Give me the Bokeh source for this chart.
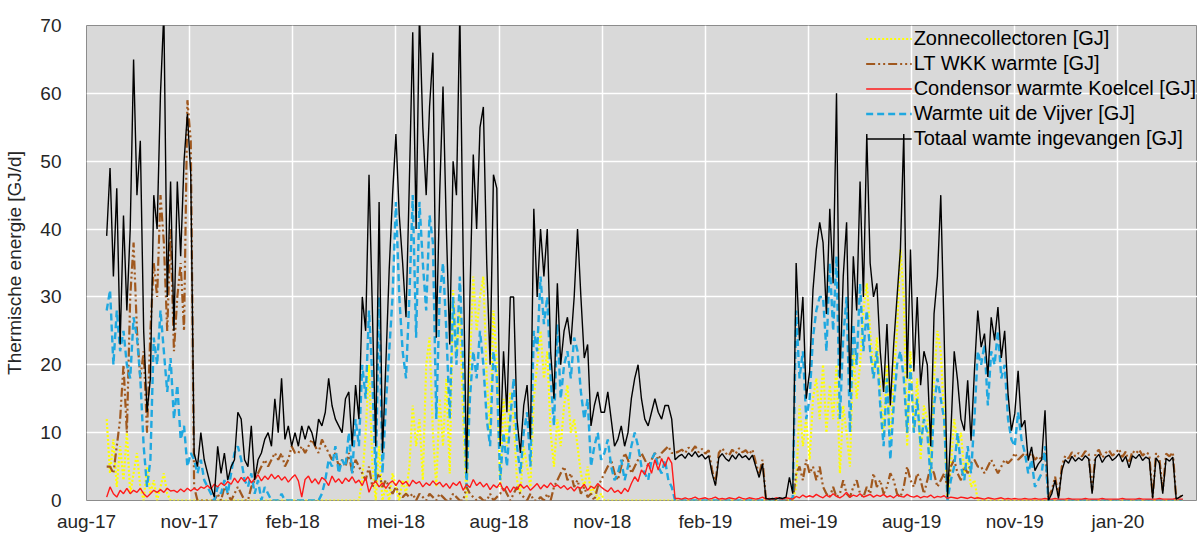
from bokeh.plotting import figure
from bokeh.models import FixedTicker, SingleIntervalTicker, Range1d, Legend, LegendItem
from bokeh.embed import file_html
from bokeh.resources import INLINE

# ---- data: daily energy (GJ/d), sampled every STEP days starting DAY0 days after aug-17 ----
DAY0 = 18
STEP = 3
TICK_DAYS = 92
tick_labels = ["aug-17", "nov-17", "feb-18", "mei-18", "aug-18", "nov-18",
               "feb-19", "mei-19", "aug-19", "nov-19", "jan-20"]

series_names = ["Zonnecollectoren [GJ]", "LT WKK warmte [GJ]", "Condensor warmte Koelcel [GJ]",
                "Warmte uit de Vijver [GJ]", "Totaal wamte ingevangen [GJ]"]

totaal = [
    39, 49, 33, 46, 23, 42, 28, 40, 65, 45,
    53, 25, 13, 18, 45, 40, 60, 72, 30, 47,
    25, 47, 36, 50, 57, 48, 7, 5, 10, 6,
    4, 2, 0.5, 8, 4, 7, 3, 5, 6, 13,
    12, 6, 5, 11, 3, 6, 7, 9, 10, 8,
    15, 10, 18, 9, 11, 8, 10, 8, 11, 9,
    11, 10, 8, 12, 11, 13, 18, 14, 12, 11,
    10, 15, 16, 8, 17, 12, 30, 25, 48, 28,
    8, 44, 7, 20, 34, 45, 54, 42, 35, 27,
    47, 69, 40, 72, 55, 45, 58, 66, 24, 45,
    61, 40, 23, 50, 45, 72, 36, 4, 30, 51,
    40, 55, 58, 35, 20, 48, 46, 8, 22, 13,
    30, 30, 12, 7, 14, 17, 9, 43, 30, 40,
    33, 40, 22, 15, 32, 20, 25, 27, 23, 30,
    40, 30, 21, 23, 11, 14, 16, 13, 13, 16,
    12, 8, 9, 11, 8, 10, 15, 18, 20, 15,
    12, 11, 13, 15, 13, 12, 14, 14, 12, 6,
    6.5, 6.8, 6.2, 7, 6.5, 7.2, 6.4, 6.8, 6.1, 6.6,
    4, 2.2, 6.3, 6.9, 6.2, 5.8, 6.7, 6.1, 6.9, 6.3,
    6.6, 6, 6.7, 5, 3.4, 5.4, 0.3, 0.2, 0.3, 0.2,
    0.4, 0.3, 0.5, 3.4, 1, 35, 23.6, 30, 15, 19,
    31, 37, 41, 38, 27.5, 43, 32, 60, 18, 33,
    41, 16, 36, 28, 47, 30, 54, 35, 30, 32,
    22, 16, 26, 14, 23, 30, 37, 54, 18, 37,
    19, 30, 17, 22, 20, 8, 27.5, 33, 45, 24.5,
    0.5, 10, 22, 17.7, 12, 10.3, 17.7, 8.8, 19, 28,
    22.6, 24.6, 18.2, 27, 23.6, 28.5, 21, 25, 15.7, 10.3,
    12.8, 19.1, 10.8, 11.8, 5.9, 7.9, 4.4, 5.4, 6, 13.3,
    0, 1, 3, 0.3, 4.4, 6, 5.5, 6.5, 5.8, 6.3,
    5.9, 6.6, 6.1, 1, 6.2, 6.8, 5.6, 6.4, 6.7, 5.9,
    6.3, 6.9, 5.7, 6.5, 4.8, 6.6, 6.2, 6.8, 5.9, 6.4,
    6.1, 0.3, 6.3, 5.5, 1, 6.2, 5.8, 6.4, 0.2, 0.5,
    0.8,
]

vijver = [
    28, 31, 20, 28, 22, 25, 20, 18, 27, 24,
    18, 8, 2, 6, 24, 20, 28, 22, 16, 21,
    12, 17, 9, 11, 5, 7, 6, 4, 6, 3,
    2, 1, 0, 2, 1, 3, 1, 4, 7, 8,
    6, 3, 2, 4, 1, 3, 0, 2, 1, 0,
    0, 0, 1, 0, 0, 0, 0, 0, 0, 0,
    0, 0, 0, 0, 1, 3, 6, 5, 8, 4,
    6, 5, 10, 4, 12, 8, 20, 15, 28, 18,
    3, 30, 4, 14, 22, 30, 44, 30, 22, 18,
    30, 45, 24, 44, 35, 28, 42, 38, 12, 30,
    35, 25, 12, 30, 20, 33, 20, 2, 15, 22,
    18, 25, 20, 12, 8, 22, 18, 3, 10, 5,
    12, 18, 8, 4, 10, 13, 5, 25, 22, 33,
    26, 30, 18, 11, 26, 15, 20, 22, 18, 24,
    22, 16, 12, 15, 5, 8, 10, 6, 7, 9,
    5, 3, 4, 6, 3, 5, 8, 10, 8, 5,
    4, 3, 6, 7, 5, 4, 6, 3, 2, 0,
    0, 0, 0, 0, 0, 0, 0, 0, 0, 0,
    0, 0, 0, 0, 0, 0, 0, 0, 0, 0,
    0, 0, 0, 0, 0, 0, 0, 0, 0, 0,
    0, 0, 0, 0, 0.5, 28, 18, 22, 12, 15,
    24, 28, 30, 30, 22, 35, 25, 36, 12, 24,
    30, 10, 26, 20, 32, 22, 28, 22, 18, 22,
    14, 8, 18, 6, 14, 20, 22, 18, 10, 20,
    10, 15, 8, 12, 10, 3, 14, 18, 15, 12,
    0, 3, 5, 10, 5, 3, 8, 4, 12, 22,
    20, 23, 14, 22, 20, 25, 18, 20, 12, 9,
    8, 13, 9, 7, 4, 6, 2, 3, 4, 8,
    0, 0, 0, 0, 0, 0, 0, 0, 0, 0,
    0, 0, 0, 0, 0, 0, 0, 0, 0, 0,
    0, 0, 0, 0, 0, 0, 0, 0, 0, 0,
    0, 0, 0, 0, 0, 0, 0, 0, 0, 0,
    0,
]

zonne = [
    12, 4, 9, 2, 8, 3, 10, 1, 4, 7,
    2, 0, 5, 1, 3, 0, 2, 4, 1, 0,
    0, 0, 0, 0, 0, 0, 0, 0, 0, 0,
    0, 0, 0, 0, 0, 0, 0, 0, 0, 0,
    0, 0, 0, 0, 0, 0, 0, 0, 0, 0,
    0, 0, 0, 0, 0, 0, 0, 0, 0, 0,
    0, 0, 0, 0, 0, 0, 0, 0, 0, 0,
    0, 0, 0, 0, 0, 0, 3, 10, 20, 5,
    0, 8, 0, 2, 0, 4, 2, 0, 3, 1,
    5, 14, 8, 12, 3, 20, 24, 10, 2, 15,
    8, 18, 4, 31, 22, 28, 12, 0, 20, 33,
    25, 30, 33, 18, 10, 28, 20, 2, 15, 8,
    16, 12, 3, 1, 8, 5, 2, 15, 20, 25,
    18, 22, 10, 5, 12, 8, 14, 17, 10, 12,
    8, 4, 2, 5, 1, 2, 0, 1, 0, 0,
    0, 0, 0, 0, 0, 0, 0, 0, 0, 0,
    0, 0, 0, 0, 0, 0, 0, 0, 0, 0,
    0, 0, 0, 0, 0, 0, 0, 0, 0, 0,
    0, 0, 0, 0, 0, 0, 0, 0, 0, 0,
    0, 0, 0, 0, 0, 0, 0, 0, 0, 0,
    0, 0, 0, 0, 0, 2, 14, 8, 12, 6,
    15, 18, 12, 20, 10, 17, 12, 20, 4, 14,
    10, 5, 22, 15, 20, 28, 32, 25, 18, 24,
    16, 10, 20, 8, 18, 25, 37, 30, 8, 22,
    10, 18, 6, 14, 12, 4, 18, 25, 22, 12,
    0, 5, 12, 8, 10, 4, 6, 2, 3, 0,
    0, 0, 0, 0, 0, 0, 0, 0, 0, 0,
    0, 0, 0, 0, 0, 0, 0, 0, 0, 0,
    0, 0, 0, 0, 0, 0, 0, 0, 0, 0,
    0, 0, 0, 0, 0, 0, 0, 0, 0, 0,
    0, 0, 0, 0, 0, 0, 0, 0, 0, 0,
    0, 0, 0, 0, 0, 0, 0, 0, 0, 0,
    0,
]

wkk = [
    5, 5, 4, 8, 12, 20, 10, 30, 38, 25,
    18, 22, 10, 25, 35, 30, 45, 38, 25, 40,
    22, 30, 35, 25, 59, 53, 2, 0, 0, 0,
    0, 0, 0, 1, 0, 2, 1, 0, 1, 2,
    1, 0, 0, 2, 3, 4, 5, 6, 5, 6,
    7, 6, 7, 5, 6, 8, 7, 7, 8, 7,
    8, 9, 8, 7, 9, 8, 7, 6, 7, 5,
    6, 5, 7, 4, 6, 5, 4, 3, 5, 2,
    3, 4, 2, 3, 2, 1, 2, 1, 0.5, 1,
    0.5, 1, 0, 1, 0.5, 0, 1, 0.5, 0, 1,
    0.5, 0, 0, 1, 0.5, 0, 0, 2, 1, 0.5,
    0, 0.5, 0, 0, 1, 0, 0.5, 1, 2, 1,
    0, 1, 2, 1, 0.5, 0, 1, 0, 0, 0.5,
    0, 1, 0, 2, 3, 4, 5, 3, 4, 2,
    3, 1, 2, 0.5, 1, 0, 2, 3, 4, 5,
    6, 4, 3, 5, 7, 6, 4, 5, 6, 7,
    6, 5, 6, 7, 6, 7, 7.5, 8, 7, 7,
    7.2, 7.5, 7, 7.8, 7.3, 8, 7.1, 7.6, 6.9, 7.4,
    4.5, 2.5, 7, 7.7, 7, 6.6, 7.5, 6.9, 7.7, 7.1,
    7.4, 6.8, 7.5, 5.6, 3.8, 6, 0.3, 0, 0, 0,
    0, 0, 0, 0, 0, 4, 5, 3, 6, 4,
    5, 3, 5, 2, 1, 0.5, 2, 0.5, 1, 3,
    1, 0.5, 2, 3, 1, 0.5, 2, 1, 4, 2,
    3, 1, 2, 4, 3, 1, 0.5, 2, 5, 3,
    2, 4, 3, 1, 3, 5, 4, 2, 3, 4,
    2, 5, 6, 4, 3, 5, 4, 5.5, 6, 5,
    5, 4, 5, 6, 5, 4, 5, 6, 5.5, 6,
    7, 6, 6.5, 7, 6.5, 7, 6, 6.5, 6, 7,
    0.5, 1.5, 3.5, 0.5, 5, 6.6, 6.2, 7.1, 6.5, 7,
    6.5, 7.3, 6.8, 1.5, 6.9, 7.5, 6.3, 7, 7.4, 6.6,
    7, 7.6, 6.4, 7.2, 5.5, 7.3, 6.9, 7.5, 6.6, 7.1,
    6.8, 0.5, 7, 6.2, 1.5, 6.9, 6.5, 7.1, 0.3, 0.5,
    0.8,
]

condensor = [
    0.5, 2, 1, 0.5, 1.5, 1, 1.8, 1, 1.5, 1.2,
    1.8, 1, 0.5, 1, 1.5, 1.2, 1.6, 1.2, 1.8, 1.4,
    1.5, 1.2, 1.7, 1.3, 1.8, 1.4, 1.8, 1.5, 2, 1.8,
    2.2, 1.7, 2.4, 2, 2.6, 2.2, 2.8, 2.4, 3.3, 2.6,
    3.4, 2.8, 3.5, 2.6, 3.2, 3.8, 2.9, 3.6, 3.1, 3.9,
    3.2, 3.7, 3, 3.5, 2.7, 3.3, 3.8, 2.9, 0.5, 3.1,
    3.6, 2.6, 3.2, 2.4, 3.4, 3, 2.2, 3.6, 2.7, 3.2,
    2.5, 3.3, 2.8, 3.5, 2.6, 3, 2.2, 3.4, 1.2, 2.4,
    2.8, 2, 2.6, 1.8, 2.5, 2.9, 2.2, 3, 2.4, 2.8,
    2.1, 3, 2.5, 2.8, 2, 2.6, 2.2, 2.9, 2.3, 2.7,
    2, 2.5, 1.8, 2.6, 2.2, 2.8, 1.5, 2.4, 1.9, 3.1,
    2.2, 2.7, 2, 2.5, 1.6, 2.3, 1.9, 2.6, 1.4, 2.1,
    1.2, 2, 1.6, 2.4, 1.8, 2.2, 1.5, 2, 2.5, 1.7,
    2.3, 1.9, 2.6, 2, 2.3, 1.8, 2.2, 1.6, 2, 1.4,
    2, 1.8, 2.4, 1.5, 2.1, 1.8, 2.5, 2, 1.6, 1.3,
    1.9, 1.2, 1.5, 1, 1.8, 1.3, 2.5, 3.5, 2.8, 4.5,
    3.8, 5.5, 4, 6, 4.5, 6.2, 5, 6.4, 5.5, 0.3,
    0.3, 0.2, 0.4, 0.2, 0.3, 0.5, 0.2, 0.3, 0.4, 0.2,
    0.3, 0.5, 0.2, 0.3, 0.2, 0.4, 0.3, 0.2, 0.5, 0.3,
    0.2, 0.4, 0.3, 0.2, 0.3, 0.5, 0.2, 0.3, 0.2, 0.4,
    0.3, 0.2, 0.4, 0.3, 0.2, 0.6, 0.4, 0.8, 0.5, 0.7,
    0.5, 0.9, 0.6, 0.4, 0.8, 0.5, 1.0, 0.6, 0.4, 0.7,
    1.2, 0.5, 0.8, 0.6, 1.0, 0.5, 0.7, 0.9, 0.5, 0.8,
    0.6, 0.9, 0.5, 0.7, 0.4, 0.8, 0.6, 0.5, 0.9, 0.6,
    0.5, 0.7, 0.4, 0.6, 0.5, 0.8, 0.4, 0.6, 0.5, 0.7,
    0.3, 0.5, 0.4, 0.3, 0.5, 0.4, 0.3, 0.5, 0.3, 0.4,
    0.3, 0.2, 0.4, 0.3, 0.2, 0.3, 0.4, 0.2, 0.3, 0.2,
    0.3, 0.2, 0.2, 0.3, 0.2, 0.2, 0.3, 0.2, 0.2, 0.3,
    0.2, 0.2, 0.3, 0.2, 0.2, 0.2, 0.3, 0.2, 0.2, 0.2,
    0.2, 0.3, 0.2, 0.2, 0.2, 0.2, 0.3, 0.2, 0.2, 0.2,
    0.2, 0.2, 0.3, 0.2, 0.2, 0.2, 0.2, 0.3, 0.2, 0.2,
    0.2, 0.2, 0.2, 0.3, 0.2, 0.2, 0.2, 0.2, 0.3, 0.2,
    0.2,
]


def days_for(vals):
    return [DAY0 + STEP * i for i in range(len(vals))]


FONT = "Liberation Sans"

p = figure(width=1197, height=534, output_backend="svg", toolbar_location=None,
           x_range=Range1d(0, 991), y_range=Range1d(0, 70),
           min_border_left=86, min_border_right=0, min_border_top=25, min_border_bottom=0)

p.background_fill_color = "#d9d9d9"
p.border_fill_color = "white"
p.outline_line_color = "#8c8c8c"
p.outline_line_width = 1

for g in (p.xgrid, p.ygrid):
    g.grid_line_color = "white"
    g.grid_line_width = 1.5

p.xaxis.ticker = FixedTicker(ticks=[TICK_DAYS * i for i in range(len(tick_labels))])
p.xaxis.major_label_overrides = {TICK_DAYS * i: lab for i, lab in enumerate(tick_labels)}
p.yaxis.ticker = SingleIntervalTicker(interval=10)

for ax in (p.xaxis[0], p.yaxis[0]):
    ax.axis_line_color = None
    ax.major_tick_line_color = None
    ax.minor_tick_line_color = None
    ax.major_label_text_font = FONT
    ax.major_label_text_font_size = "19px"
    ax.major_label_text_color = "#262626"
p.xaxis.major_label_standoff = 4
p.yaxis.major_label_standoff = 19

p.yaxis.axis_label = "Thermische energie [GJ/d]"
p.yaxis.axis_label_text_font = FONT
p.yaxis.axis_label_text_font_size = "19px"
p.yaxis.axis_label_text_font_style = "normal"
p.yaxis.axis_label_text_color = "#262626"
p.yaxis.axis_label_standoff = 12

r_z = p.line(days_for(zonne), zonne, line_color="#ffff00", line_width=2.2, line_dash="2 2")
r_w = p.line(days_for(wkk), wkk, line_color="#a0581e", line_width=2.2, line_dash="9 3 2 3 2 3")
r_v = p.line(days_for(vijver), vijver, line_color="#1fa8e0", line_width=2.4, line_dash="7 4")
r_c = p.line(days_for(condensor), condensor, line_color="#ff1a1a", line_width=1.4)
r_t = p.line(days_for(totaal), totaal, line_color="black", line_width=1.4)

legend = Legend(items=[
    LegendItem(label=series_names[0], renderers=[r_z]),
    LegendItem(label=series_names[1], renderers=[r_w]),
    LegendItem(label=series_names[2], renderers=[r_c]),
    LegendItem(label=series_names[3], renderers=[r_v]),
    LegendItem(label=series_names[4], renderers=[r_t]),
], location="top_right")
legend.background_fill_alpha = 0
legend.border_line_alpha = 0
legend.label_text_font = FONT
legend.label_text_font_size = "20px"
legend.label_text_color = "black"
legend.glyph_width = 46
legend.glyph_height = 25
legend.label_height = 25
legend.label_standoff = 2
legend.spacing = 0
legend.padding = 1
legend.margin = 0
p.add_layout(legend)

open("out.html", "w").write(file_html(p, INLINE))
